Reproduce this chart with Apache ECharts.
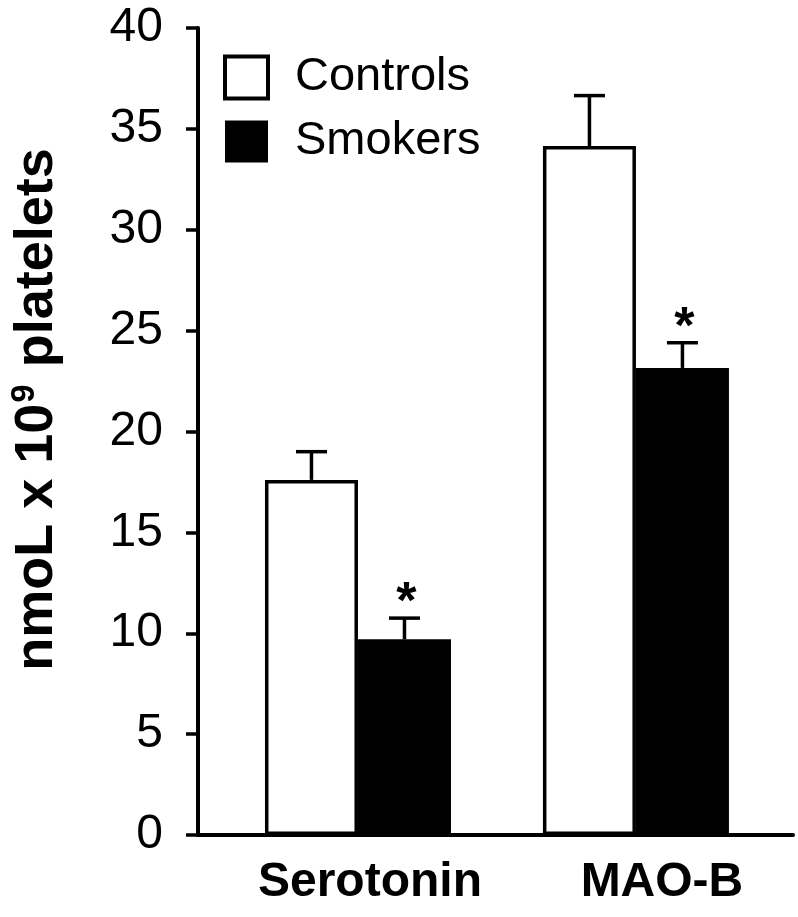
<!DOCTYPE html>
<html>
<head>
<meta charset="utf-8">
<script src="https://cdn.jsdelivr.net/npm/echarts@6/dist/echarts.min.js"></script>
<style>
  html, body { margin: 0; padding: 0; background: #fff; }
  #chart { width: 798px; height: 917px; }
</style>
</head>
<body>
<div id="chart"></div>
<script>
// data
const categories = ["Serotonin", "MAO-B"];
const controlsMean = [17.6, 34.15];
const controlsErr = [1.4, 2.5];
const smokersMean = [9.7, 23.15];
const smokersErr = [1.05, 1.25];
const smokersSig = [1, 1]; // asterisk over the smokers bar
const yMin = 0, yMax = 40, yStep = 5;

const FONT = "'Liberation Sans', Arial, Helvetica, sans-serif";
const BAR_W = 93;

// value x axis: each group sits at its index, the axis runs a bit wider on both sides
const xMin = -0.5755, xMax = 1.565;

function pairs(mean, err, sig) {
  return categories.map(function (c, i) {
    return [i, mean[i], err[i], sig ? sig[i] : 0];
  });
}

// error bar (upward only) + optional asterisk
function errorBar(offset) {
  return function (params, api) {
    const x = api.value(0), y = api.value(1), e = api.value(2);
    const base = api.coord([x, y]);
    const top = api.coord([x, y + e]);
    const cx = base[0] + offset;
    const st = { stroke: "#000", lineWidth: 3.5 };
    const kids = [
      { type: "line", shape: { x1: cx, y1: base[1], x2: cx, y2: top[1] }, style: st },
      { type: "line", shape: { x1: cx - 15.5, y1: top[1], x2: cx + 15.5, y2: top[1] }, style: st }
    ];
    if (api.value(3)) {
      kids.push({
        type: "text",
        style: {
          text: "*", x: cx + 2, y: top[1] - 14,
          align: "center", verticalAlign: "middle",
          font: "bold 52px " + FONT, fill: "#000"
        }
      });
    }
    return { type: "group", children: kids };
  };
}

let myChart = echarts.init(document.getElementById("chart"), null, { renderer: "canvas" });

let option = {
  backgroundColor: "#fff",
  animation: false,
  grid: {
    left: 198, right: 5, top: 28, bottom: 82,
    containLabel: false,
    outerBoundsMode: "none"
  },
  legend: {
    orient: "vertical",
    left: 218, top: 49,
    itemWidth: 43, itemHeight: 42,
    itemGap: 17,
    icon: "rect",
    selectedMode: false,
    textStyle: {
      fontFamily: FONT, fontSize: 47, color: "#000",
      lineHeight: 47, padding: [0, 0, 0, 22]
    },
    data: [
      { name: "Controls", itemStyle: { color: "#fff", borderColor: "#000", borderWidth: 4 } },
      { name: "Smokers", itemStyle: { color: "#000", borderWidth: 0 } }
    ]
  },
  xAxis: {
    type: "value",
    min: xMin, max: xMax,
    splitLine: { show: false },
    axisLine: { show: true, onZero: false, lineStyle: { color: "#000", width: 4 } },
    axisTick: { show: false },
    axisLabel: {
      customValues: [0, 1],
      margin: 24,
      formatter: function (v) {
        const i = Math.round(v);
        return "{c" + i + "|" + categories[i] + "}";
      },
      rich: {
        c0: { fontFamily: FONT, fontWeight: "bold", fontSize: 48, color: "#000", padding: [0, 0, 0, 24] },
        c1: { fontFamily: FONT, fontWeight: "bold", fontSize: 48, color: "#000", padding: [0, 0, 0, 52] }
      }
    }
  },
  yAxis: {
    type: "value",
    min: yMin, max: yMax, interval: yStep,
    splitLine: { show: false },
    axisLine: { show: true, onZero: false, lineStyle: { color: "#000", width: 4 } },
    axisTick: { show: true, inside: false, length: 12, lineStyle: { color: "#000", width: 3.5 } },
    axisLabel: { fontFamily: FONT, fontSize: 48, color: "#000", margin: 35 },
    name: "{a|nmoL x 10}{b|9}{a| platelets}",
    nameLocation: "middle",
    nameGap: 132,
    nameRotate: 90,
    nameTextStyle: {
      padding: [0, 0, 0, 44],
      rich: {
        a: { fontFamily: FONT, fontWeight: "bold", fontSize: 54, color: "#000", lineHeight: 58 },
        b: { fontFamily: FONT, fontWeight: "bold", fontSize: 33, color: "#000", lineHeight: 58, verticalAlign: "top", padding: [0, 2, 0, 1] }
      }
    }
  },
  series: [
    {
      name: "Controls",
      type: "bar",
      barWidth: BAR_W,
      barGap: "0%",
      itemStyle: { color: "#fff", borderColor: "#000", borderWidth: 3.5 },
      data: pairs(controlsMean, controlsErr).map(function (d) { return [d[0], d[1]]; })
    },
    {
      name: "Smokers",
      type: "bar",
      barWidth: BAR_W,
      barGap: "0%",
      itemStyle: { color: "#000" },
      data: pairs(smokersMean, smokersErr).map(function (d) { return [d[0], d[1]]; })
    },
    {
      name: "ctrlErr",
      type: "custom",
      clip: false,
      z: 5,
      renderItem: errorBar(-BAR_W / 2),
      encode: { x: 0, y: 1 },
      data: pairs(controlsMean, controlsErr)
    },
    {
      name: "smkErr",
      type: "custom",
      clip: false,
      z: 5,
      renderItem: errorBar(BAR_W / 2),
      encode: { x: 0, y: 1 },
      data: pairs(smokersMean, smokersErr, smokersSig)
    }
  ]
};

myChart.setOption(option);
</script>
</body>
</html>
